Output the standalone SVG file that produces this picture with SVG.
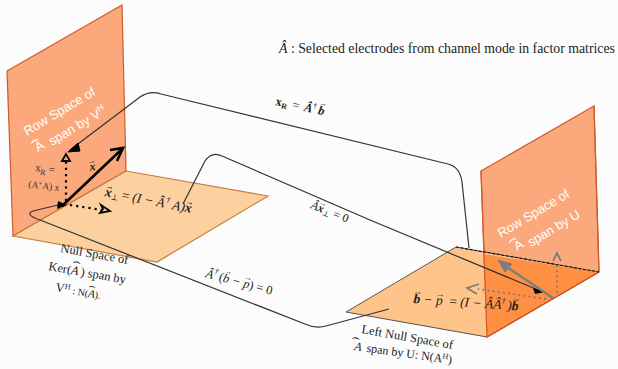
<svg xmlns="http://www.w3.org/2000/svg" width="618" height="369" viewBox="0 0 618 369">
<style>
.wall{fill:#fba97c;stroke:#d2592a;stroke-width:1.2}
.floorL{fill:#fcd09f;stroke:#c47f3a;stroke-width:1.2}
.floorR{fill:#ffc489;stroke:#555;stroke-width:1}
.conn{fill:none;stroke:#333;stroke-width:1.2}
.blk{fill:none;stroke:#000;stroke-width:2.6}
.dot{fill:none;stroke:#000;stroke-width:2.2;stroke-dasharray:2.2 4}
.gdot{fill:none;stroke:#7d7d7d;stroke-width:1.8;stroke-dasharray:2 3.2}
.hd{fill:none;stroke:#000;stroke-width:1.8}
.ghd{fill:none;stroke:#7d7d7d;stroke-width:1.8}
text{font-family:"Liberation Serif","DejaVu Serif",serif;fill:#222;font-size:12.5px}
text.w{font-family:"Liberation Sans",Arial,sans-serif;fill:#fff;font-size:13px}
text.m{font-style:italic;font-size:13.5px}
text.h{fill:#333}
.b{font-weight:bold}
.n{font-style:normal}
.ar{font-size:8px;font-style:normal;font-weight:normal}
.sup{font-size:8px}
</style>
<rect width="618" height="369" fill="#fcfcfc"/>
<g id="left-plane">
<polygon class="wall" points="7,71 122,5 126,171 13,236"/>
<polygon class="floorL" points="126,171 268,196 157,262 13,236"/>
<text class="w" transform="translate(27,136) rotate(-31)">Row Space of</text>
<text class="w" transform="translate(38,152) rotate(-31)">A</text>
<text class="w" style="font-size:15px" transform="translate(32,147) rotate(-31)">⌢</text>
<text class="w" transform="translate(52,146) rotate(-31)">span by V<tspan font-size="9" dy="-5">H</tspan></text>
<text transform="translate(35,171) rotate(7)" style="font-size:11px;fill:#333">x<tspan font-size="8" dy="3">R</tspan><tspan dy="-3"> =</tspan></text>
<text transform="translate(28,187) rotate(7)" style="font-size:9.5px;fill:#333">(A<tspan font-size="7" dy="-3">+</tspan><tspan dy="3">A) x</tspan></text>
<text class="m b" style="font-size:12px" transform="translate(89,171) rotate(-8)">x<tspan class="ar" dx="-7" dy="-7">→</tspan></text>
<text class="m" transform="translate(104,196) rotate(11)"><tspan class="b">x</tspan><tspan class="ar" dx="-7" dy="-8">→</tspan><tspan class="sup" dy="10" dx="-1">⊥</tspan><tspan class="n" dy="-2" dx="3">=</tspan><tspan dx="3">(I −</tspan><tspan dx="3">Â</tspan><tspan class="sup" dy="-6" dx="1">†</tspan><tspan dy="6" dx="3">A)</tspan><tspan class="b">x</tspan><tspan class="ar" dx="-7" dy="-8">→</tspan></text>
<text transform="translate(60,252) rotate(10)">Null Space of</text>
<text transform="translate(48,270) rotate(10)">Ker(<tspan font-style="italic">A</tspan><tspan dx="2">) span by</tspan></text>
<text transform="translate(55,291) rotate(10)">V<tspan class="sup" dy="-4">H</tspan><tspan dy="4" style="font-size:10px"> : N(</tspan><tspan font-style="italic" style="font-size:11px">A</tspan><tspan style="font-size:10px">).</tspan></text>
<text class="h" style="font-size:13px" transform="translate(72,265) rotate(10)">⌢</text>
<text class="h" style="font-size:11px" transform="translate(88,289) rotate(10)">⌢</text>
</g>
<g id="right-plane">
<polygon class="wall" points="481,171 594,106 599,272 487,337"/>
<polygon class="floorR" points="456,247 599,272 487,337 346,312"/>
<polygon points="483,254 599,272 487,337" fill="#ff8f42" stroke="none"/>
<line x1="487" y1="337" x2="599" y2="272" stroke="#c9541f" stroke-width="1.3"/>
<line x1="481" y1="171" x2="487" y2="337" stroke="#d2592a" stroke-width="1.2"/>
<line x1="594" y1="106" x2="599" y2="272" stroke="#d2592a" stroke-width="1.2"/>
<line x1="456" y1="247" x2="599" y2="272" stroke="#111" stroke-width="1.1" stroke-dasharray="3 1.6"/>
<text class="w" transform="translate(501,238) rotate(-31)">Row Space of</text>
<text class="w" transform="translate(517,251) rotate(-31)">A</text>
<text class="w" style="font-size:15px" transform="translate(510,246) rotate(-31)">⌢</text>
<text class="w" transform="translate(531,247) rotate(-31)">span by U</text>
<text class="m" transform="translate(413,303) rotate(4)"><tspan class="b">b</tspan><tspan class="ar" dx="-7" dy="-9">→</tspan><tspan dy="9" dx="-1"> − p</tspan><tspan class="ar" dx="-7" dy="-8">→</tspan><tspan class="n" dy="8" dx="2"> = </tspan>(I − ÂÂ<tspan class="sup" dy="-6">†</tspan><tspan dy="6" dx="2">)</tspan><tspan class="b">b</tspan><tspan class="ar" dx="-7" dy="-9">→</tspan></text>
<text transform="translate(361,333) rotate(10)">Left Null Space of</text>
<text transform="translate(354,350) rotate(8)" style="font-size:12px"><tspan font-style="italic">A</tspan><tspan dx="5">span by U: N(A</tspan><tspan class="sup" dy="-4">H</tspan><tspan dy="4">)</tspan></text>
<text class="h" style="font-size:13px" transform="translate(351,341) rotate(8)">⌢</text>
</g>
<g id="legend">
<text x="279" y="53" style="font-size:13.8px"><tspan font-style="italic">Â</tspan> : Selected electrodes from channel mode in factor matrices</text>
</g>
<g id="connectors">
<path class="conn" d="M469,248 L462,182 Q460,167 448,164 L161,94 Q150,90 140,97 L70,150"/>
<path d="M78,143 L68,152 L80,151 Z" fill="#000" stroke="#000"/>
<path class="conn" d="M183,204 L205,161 Q212,151 222,156 L370,220 L543,292" stroke="#222"/>
<path d="M533,288 L545,292 L535,294 Z" fill="#000"/>
<path class="conn" d="M389,309 L326,326 Q316,329 305,324 L40,220 C28,216 28,213 33,211 L58,205"/>
<path d="M58,201 L67,205 L57,209 Z" fill="#000"/>
<line class="blk" x1="62" y1="206" x2="122" y2="149"/>
<path class="hd" style="stroke-width:2.6" d="M110,150 L123,148 L117,161"/>
<line class="dot" x1="66" y1="201" x2="66" y2="158"/>
<path class="hd" d="M62,161 L66,154 L70,161 Z"/>
<line class="dot" x1="70" y1="205" x2="102" y2="210"/>
<path class="hd" d="M101,205 L110,211 L100,213 L103,209 Z"/>
<line x1="553" y1="298" x2="501" y2="263" stroke="#7d7d7d" stroke-width="2.6"/>
<path fill="#7d7d7d" stroke="#7d7d7d" d="M498,260 L512,264 L505,272 Z"/>
<line class="gdot" x1="546" y1="299" x2="478" y2="289"/>
<path class="ghd" d="M479,284 L467,288 L477,294"/>
<line class="gdot" x1="557" y1="293" x2="557" y2="263"/>
<path class="ghd" d="M553,261 L557,253 L561,261"/>
</g>
<g id="connector-labels">
<text class="b" transform="translate(275,105) rotate(12)" style="font-size:12.5px">x<tspan class="sup" dy="2">R</tspan><tspan dy="-2" dx="5" font-weight="normal">=</tspan><tspan dx="5" font-style="italic">Â</tspan><tspan class="sup" dy="-5" font-weight="normal">†</tspan><tspan dy="5" font-style="italic" dx="2">b</tspan><tspan class="ar" dx="-7" dy="-9">→</tspan></text>
<text class="m" style="font-size:12px" transform="translate(310,208) rotate(22)"><tspan>Â</tspan><tspan class="b">x</tspan><tspan class="ar" dx="-7" dy="-7">→</tspan><tspan class="sup" dy="9" dx="-1">⊥</tspan><tspan class="n" dy="-2" dx="3">= 0</tspan></text>
<text transform="translate(205,277) rotate(15)" style="font-size:12.5px" font-style="italic">Â<tspan class="sup" dy="-6">†</tspan><tspan dy="6" dx="2" font-style="normal">(</tspan>b<tspan class="ar" dx="-7" dy="-9">→</tspan><tspan dy="9" dx="-1"> − p</tspan><tspan class="ar" dx="-7" dy="-8">→</tspan><tspan font-style="normal" dy="8" dx="-1">) = 0</tspan></text>
</g>
</svg>
